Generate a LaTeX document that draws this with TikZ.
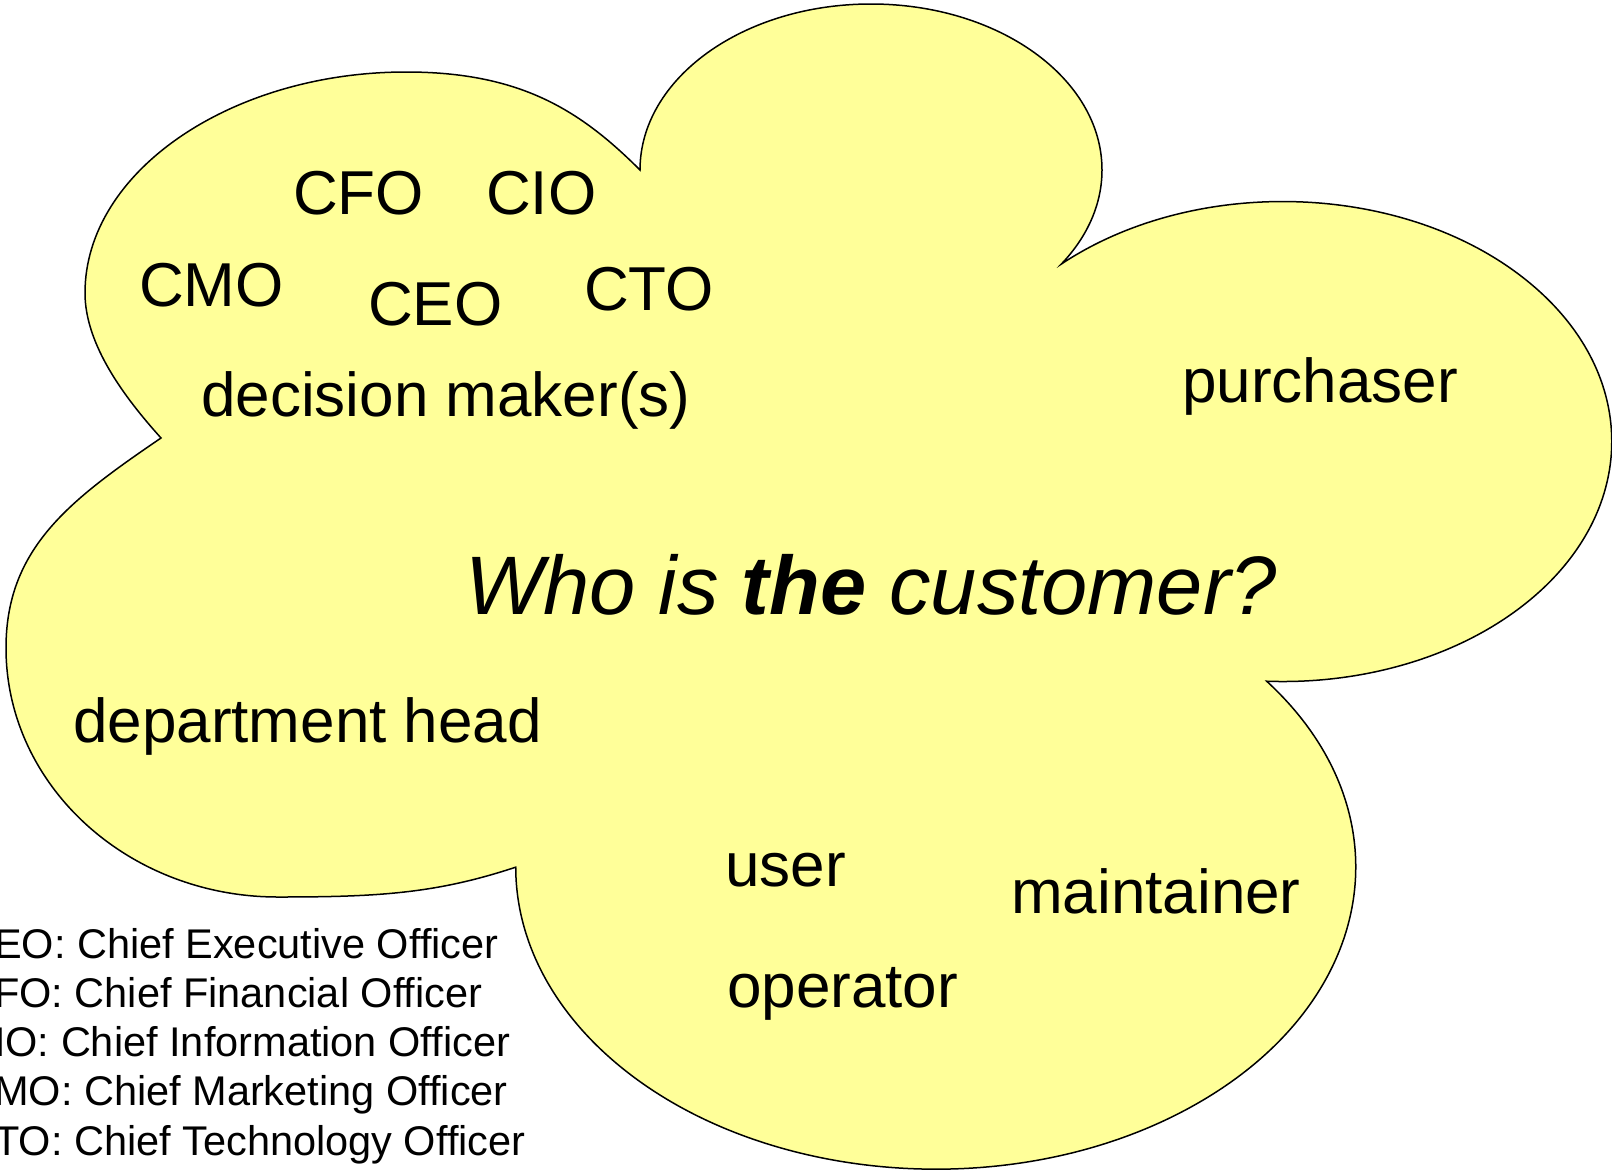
\documentclass[tikz,border=0pt]{standalone}
\usepackage{fontspec}
\setmainfont{Liberation Sans}
\definecolor{cloudfill}{HTML}{FFFF99}
\begin{document}
\begin{tikzpicture}[x=1pt,y=-1pt,
  lbl/.style={anchor=base west, inner sep=0pt, font=\fontsize{62}{62}\selectfont},
  legend/.style={anchor=base west, inner sep=0pt, font=\fontsize{41.5}{49}\selectfont},
  cloudline/.style={draw=black, line width=1.5pt, fill=cloudfill, line join=miter}]
\useasboundingbox (0,0) rectangle (1612,1173);
% cusps
\coordinate (E) at (161,438);
\coordinate (A) at (640,170);
\coordinate (D) at (512,869);
% cloud outline
\path[cloudline]
  (E) .. controls (125,398) and (85,345) .. (85,293)
      .. controls (85,171) and (232,72) .. (406,72)
      .. controls (520,72) and (580,110) .. (A)
      arc[start angle=180, end angle=394.5, x radius=231, y radius=166]
      arc[start angle=227.7, end angle=452.8, x radius=329, y radius=240]
      arc[start angle=-38, end angle=180, x radius=420, y radius=302]
      .. controls (436,893.6) and (378,897) .. (278,897)
      .. controls (128,897) and (6,785.5) .. (6,648)
      .. controls (6,548) and (70,500) .. (E) -- cycle;
% labels
\node[lbl] (cfo) at (293,214) {CFO};
\node[lbl] (cio) at (486,214) {CIO};
\node[lbl] (cmo) at (139,306) {CMO};
\node[lbl] (ceo) at (368,325) {CEO};
\node[lbl] (cto) at (584,310) {CTO};
\node[lbl] (dm) at (201,416) {decision maker(s)};
\node[lbl] (pur) at (1182,402) {purchaser};
\node[anchor=base west, inner sep=0pt, font=\fontsize{83}{83}\selectfont\itshape] (who) at (465,614) {Who is \textbf{the} customer?};
\node[lbl] (dh) at (73,742) {department head};
\node[lbl] (user) at (725,886) {user};
\node[lbl] (maint) at (1011,913) {maintainer};
\node[lbl] (op) at (727,1007) {operator};
% legend
\node[legend] (l1) at (-36,958) {CEO: Chief Executive Officer};
\node[legend] (l2) at (-36,1007.3) {CFO: Chief Financial Officer};
\node[legend] (l3) at (-36,1056.6) {CIO: Chief Information Officer};
\node[legend] (l4) at (-36,1105.9) {CMO: Chief Marketing Officer};
\node[legend] (l5) at (-36,1155.2) {CTO: Chief Technology Officer};
\end{tikzpicture}
\end{document}
